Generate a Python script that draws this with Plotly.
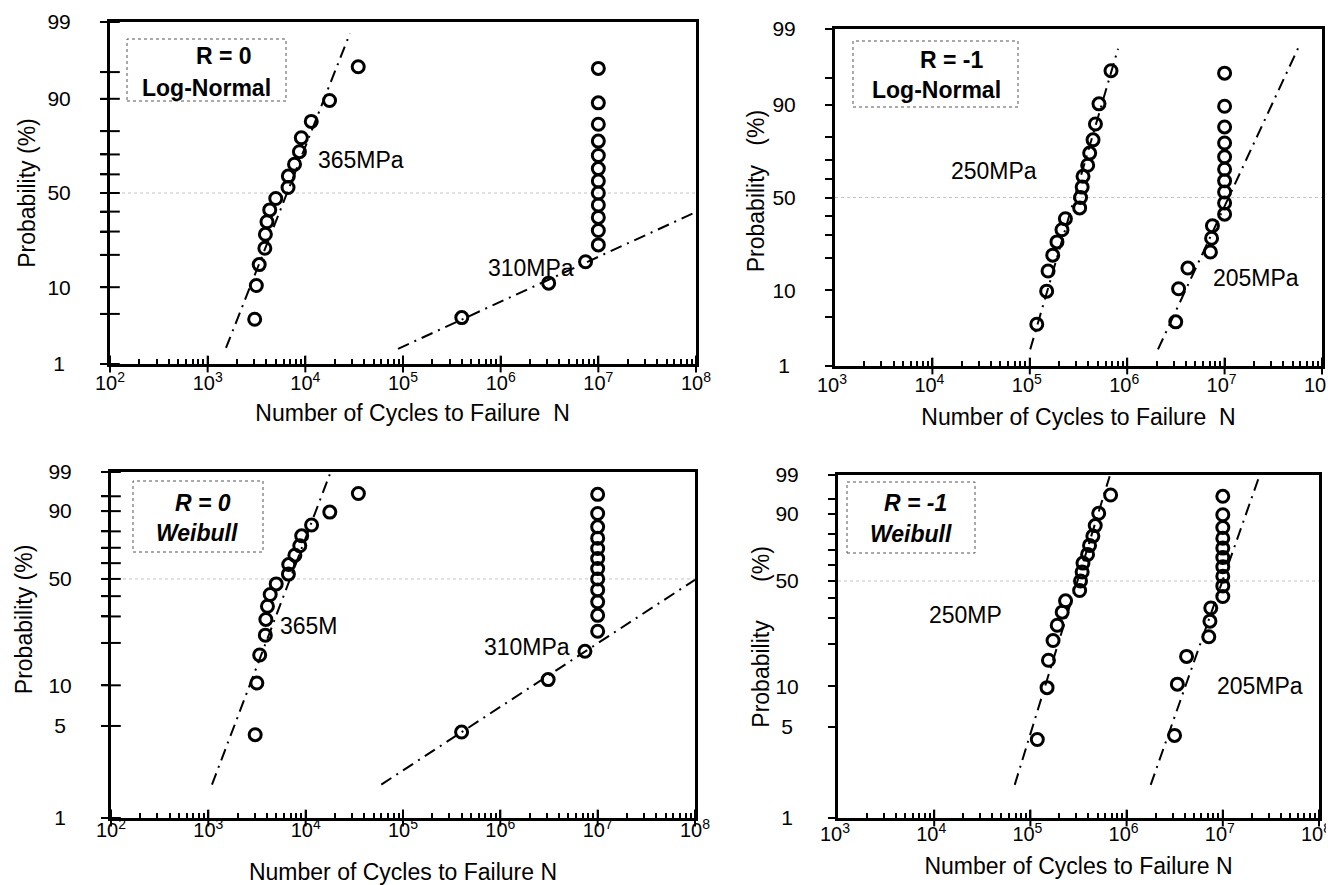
import math
from statistics import NormalDist
import plotly.graph_objects as go

# ---------------- data ----------------
# R = 0, 365 MPa (all failures)
N_365 = [3030, 3150, 3370, 3850, 3900, 4050, 4320, 4980, 6650, 6700,
         7750, 8700, 9100, 11500, 17700, 34800]
P_365 = [4.3, 10.4, 16.5, 22.6, 28.7, 34.8, 40.9, 47.0, 53.0, 59.1,
         65.2, 71.3, 77.4, 83.5, 89.6, 95.7]
# R = 0, 310 MPa (3 failures, run-outs at 1e7)
N_310 = [400000, 3100000, 7400000, 1.0e7, 1.0e7, 1.0e7, 1.0e7, 1.0e7,
         1.0e7, 1.0e7, 1.0e7, 1.0e7, 1.0e7, 1.0e7, 1.0e7]
P_310 = [4.5, 11.0, 17.5, 24.0, 30.5, 37.0, 43.5, 50.0, 56.5, 63.0,
         69.5, 76.0, 82.5, 89.0, 95.5]
# R = -1, 250 MPa (all failures)
N_250 = [118000, 149000, 154000, 172000, 190000, 214000, 232000, 325000,
         332000, 345000, 352000, 393000, 412000, 446000, 472000, 513000, 682000]
P_250 = [4.0, 9.8, 15.5, 21.3, 27.0, 32.8, 38.5, 44.3, 50.0, 55.7,
         61.5, 67.2, 73.0, 78.7, 84.5, 90.2, 96.0]
# R = -1, 205 MPa (6 failures, run-outs at 1e7)
N_205 = [3150000, 3370000, 4200000, 7150000, 7350000, 7500000, 1.0e7, 1.0e7,
         1.0e7, 1.0e7, 1.0e7, 1.0e7, 1.0e7, 1.0e7, 1.0e7, 1.0e7]
P_205 = [4.3, 10.4, 16.5, 22.6, 28.7, 34.8, 40.9, 47.0, 53.0, 59.1,
         65.2, 71.3, 77.4, 83.5, 89.6, 95.7]

# fitted distribution lines (end points: N, probability %)
FIT_LN_365_N = [1540, 28600];     FIT_LN_365_P = [1.75, 98.5]
FIT_LN_310_N = [88900, 1.0e8];    FIT_LN_310_P = [1.7, 39.8]
FIT_LN_250_N = [101000, 805000];  FIT_LN_250_P = [1.8, 98.0]
FIT_LN_205_N = [2.07e6, 5.9e7];   FIT_LN_205_P = [1.8, 98.25]
FIT_WB_365_N = [1090, 17700];     FIT_WB_365_P = [1.8, 98.8]
FIT_WB_310_N = [59800, 1.0e8];    FIT_WB_310_P = [1.8, 49.5]
FIT_WB_250_N = [68700, 667000];   FIT_WB_250_P = [1.8, 98.9]
FIT_WB_205_N = [1.78e6, 2.42e7];  FIT_WB_205_P = [1.8, 99.0]

# axis ticks
PROB_TICKS = [1, 5, 10, 20, 30, 40, 50, 60, 70, 80, 90, 95, 99]
LN_LABELS = [1, 10, 50, 90, 99]
WB_LABELS = [1, 5, 10, 50, 90, 99]
EXP_R0 = [2, 3, 4, 5, 6, 7, 8]
EXP_R1 = [3, 4, 5, 6, 7, 8]

# ---------------- helpers ----------------
W, H = 1334, 885
FONT = "Liberation Sans, Arial, Helvetica, sans-serif"
SP = "&nbsp;"


def probit(p):
    return NormalDist().inv_cdf(p / 100.0)


def weib(p):
    return math.log(-math.log(1.0 - p / 100.0))


def xdom(a, b):
    return [a / W, b / W]


def ydom(top, bottom):
    return [1 - bottom / H, 1 - top / H]


def px_x(v):
    return v / W


def px_y(v):
    return 1 - v / H


def aid(n):
    return "" if n == 1 else str(n)


def plabel(p):
    # single digit labels get a trailing space so they sit centred like the reference
    return ("%d&nbsp;" % p) if p < 10 else ("%d" % p)


panels = [
    dict(px=(102, 688), py=(14, 356), T=probit, labels=LN_LABELS, exps=EXP_R0,
         series=[(N_365, P_365), (N_310, P_310)],
         fits=[(FIT_LN_365_N, FIT_LN_365_P), (FIT_LN_310_N, FIT_LN_310_P)],
         xtitle=SP * 3 + "Number of Cycles to Failure" + SP + " N",
         ytitle="Probability (%)", ystand=6, xstand=12, xls=-1, shift=0),
    dict(px=(827, 1314), py=(21, 358), T=probit, labels=LN_LABELS, exps=EXP_R1,
         series=[(N_250, P_250), (N_205, P_205)],
         fits=[(FIT_LN_250_N, FIT_LN_250_P), (FIT_LN_205_N, FIT_LN_205_P)],
         xtitle="Number of Cycles to Failure" + SP + " N",
         ytitle=SP * 2 + "Probability" + SP * 2 + " (%)", ystand=2, xstand=14, xls=-1, shift=-3),
    dict(px=(103, 687), py=(464, 810), T=weib, labels=WB_LABELS, exps=EXP_R0,
         series=[(N_365, P_365), (N_310, P_310)],
         fits=[(FIT_WB_365_N, FIT_WB_365_P), (FIT_WB_310_N, FIT_WB_310_P)],
         xtitle="Number of Cycles to Failure N",
         ytitle=SP * 8 + "Probability (%)", ystand=10, xstand=24, xls=-8, shift=0),
    dict(px=(830, 1311), py=(467, 810), T=weib, labels=WB_LABELS, exps=EXP_R1,
         series=[(N_250, P_250), (N_205, P_205)],
         fits=[(FIT_WB_250_N, FIT_WB_250_P), (FIT_WB_205_N, FIT_WB_205_P)],
         xtitle="Number of Cycles to Failure N",
         ytitle=SP * 3 + "Probability" + SP * 5 + " (%)", ystand=0, xstand=14, xls=-4, shift=-3),
]

fig = go.Figure()
layout = dict(width=W, height=H, autosize=False,
              margin=dict(l=0, r=0, t=0, b=0, autoexpand=False),
              paper_bgcolor="white", plot_bgcolor="white", showlegend=False,
              font=dict(family=FONT, color="black", size=20))
shapes = []
annotations = []

for i, pn in enumerate(panels, start=1):
    T = pn["T"]
    xid, yid = aid(i), aid(i)
    xref, yref = "x" + xid, "y" + yid
    lo, hi = pn["exps"][0], pn["exps"][-1]
    decades = [10.0 ** e for e in pn["exps"]]
    dec_text = ["10<sup>%d</sup>" % e for e in pn["exps"]]
    minor_vals = [m * 10.0 ** e for e in pn["exps"][:-1] for m in range(2, 10)]
    yr = [T(1), T(99)]
    y_all = [T(p) for p in PROB_TICKS]
    y_lab = [T(p) for p in pn["labels"]]
    y_unl = [T(p) for p in PROB_TICKS if p not in pn["labels"]]

    layout["xaxis" + xid] = dict(
        domain=xdom(*pn["px"]), anchor=yref, type="log", range=[lo, hi],
        tickmode="array", tickvals=decades, ticktext=dec_text,
        ticks="inside", ticklen=8, tickwidth=2, tickcolor="black",
        minor=dict(tickmode="array", tickvals=minor_vals, ticks="inside",
                   ticklen=5, tickwidth=2, tickcolor="black", showgrid=False),
        showline=True, linewidth=3, linecolor="black", mirror=True,
        showgrid=False, zeroline=False, tickfont=dict(size=20),
        ticklabelstandoff=pn["xls"], ticklabelshift=pn["shift"],
        ticklabeloverflow="allow", automargin=False,
        title=dict(text=pn["xtitle"], font=dict(size=23), standoff=pn["xstand"]))
    layout["yaxis" + yid] = dict(
        domain=ydom(*pn["py"]), anchor=xref, range=yr,
        tickmode="array", tickvals=y_lab,
        ticktext=[plabel(p) for p in pn["labels"]],
        ticks="outside", ticklen=7, tickwidth=2, tickcolor="black",
        minor=dict(tickmode="array", tickvals=y_unl, ticks="outside",
                   ticklen=7, tickwidth=2, tickcolor="black", showgrid=False),
        showline=True, linewidth=3, linecolor="black", mirror=True,
        showgrid=False, zeroline=False, tickfont=dict(size=21),
        ticklabelstandoff=25, automargin=False,
        title=dict(text=pn["ytitle"], font=dict(size=23), standoff=pn["ystand"]))

    # 50 % reference line (light dotted)
    shapes.append(dict(type="line", xref=xref + " domain", x0=0, x1=1,
                       yref=yref, y0=T(50), y1=T(50), layer="below",
                       line=dict(color="#c4c4c4", width=1, dash="dot")))

    for fn, fp in pn["fits"]:
        fig.add_trace(go.Scatter(
            x=fn, y=[T(p) for p in fp], mode="lines", xaxis=xref, yaxis=yref,
            line=dict(color="black", width=2, dash="12px,6px,2px,6px"),
            hoverinfo="skip", showlegend=False))
    for sn, sp in pn["series"]:
        fig.add_trace(go.Scatter(
            x=sn, y=[T(p) for p in sp], mode="markers", xaxis=xref, yaxis=yref,
            customdata=sp,
            hovertemplate="N = %{x}<br>P = %{customdata}%<extra></extra>",
            marker=dict(symbol="circle-open", size=12, color="black",
                        line=dict(width=3)),
            showlegend=False))

    # crossing tick marks (reference ticks straddle the axis lines)
    fig.add_trace(go.Scatter(
        x=[10.0 ** lo] * len(y_all), y=y_all, mode="markers",
        xaxis=xref, yaxis=yref, cliponaxis=False, hoverinfo="skip",
        marker=dict(symbol="line-ew", size=14, color="black",
                    line=dict(width=2, color="black")),
        showlegend=False))
    fig.add_trace(go.Scatter(
        x=decades, y=[T(1)] * len(decades), mode="markers",
        xaxis=xref, yaxis=yref, cliponaxis=False, hoverinfo="skip",
        marker=dict(symbol="line-ns", size=12, color="black",
                    line=dict(width=2, color="black")),
        showlegend=False))

# legend boxes (dotted frames) and their texts
boxes = [
    ((119, 278, 31, 93), [("<b>R = 0</b>", 216, 48), ("<b>Log-Normal</b>", 199, 80)]),
    ((845, 1010, 33, 99), [("<b>R = -1</b>", 943, 52), ("<b>Log-Normal</b>", 928, 82)]),
    ((125, 255, 473, 544), [("<b><i>R = 0</i></b>", 195, 495), ("<b><i>Weibull</i></b>", 189, 525)]),
    ((839, 967, 474, 545), [("<b><i>R = -1</i></b>", 907, 495), ("<b><i>Weibull</i></b>", 903, 526)]),
]
for (x0, x1, y0, y1), texts in boxes:
    shapes.append(dict(type="rect", xref="paper", yref="paper",
                       x0=px_x(x0), x1=px_x(x1), y0=px_y(y1), y1=px_y(y0),
                       line=dict(color="#555555", width=1, dash="dot")))
    for t, cx, cy in texts:
        annotations.append(dict(text=t, xref="paper", yref="paper",
                                x=px_x(cx), y=px_y(cy), xanchor="center",
                                yanchor="middle", showarrow=False,
                                font=dict(size=23, family=FONT)))

# stress-level labels
labels = [
    ("365MPa", 308, 152, "left"),
    ("310MPa", 523, 260, "center"),
    ("250MPa", 986, 163, "center"),
    ("205MPa", 1248, 270, "center"),
    ("365M", 270, 618, "left"),
    ("310MPa", 519, 639, "center"),
    ("250MP", 957, 607, "center"),
    ("205MPa", 1252, 678, "center"),
]
for t, cx, cy, xa in labels:
    annotations.append(dict(text=t, xref="paper", yref="paper",
                            x=px_x(cx), y=px_y(cy), xanchor=xa,
                            yanchor="middle", showarrow=False,
                            font=dict(size=23, family=FONT)))

layout["shapes"] = shapes
layout["annotations"] = annotations
fig.update_layout(**layout)
fig.write_html("out.html")
